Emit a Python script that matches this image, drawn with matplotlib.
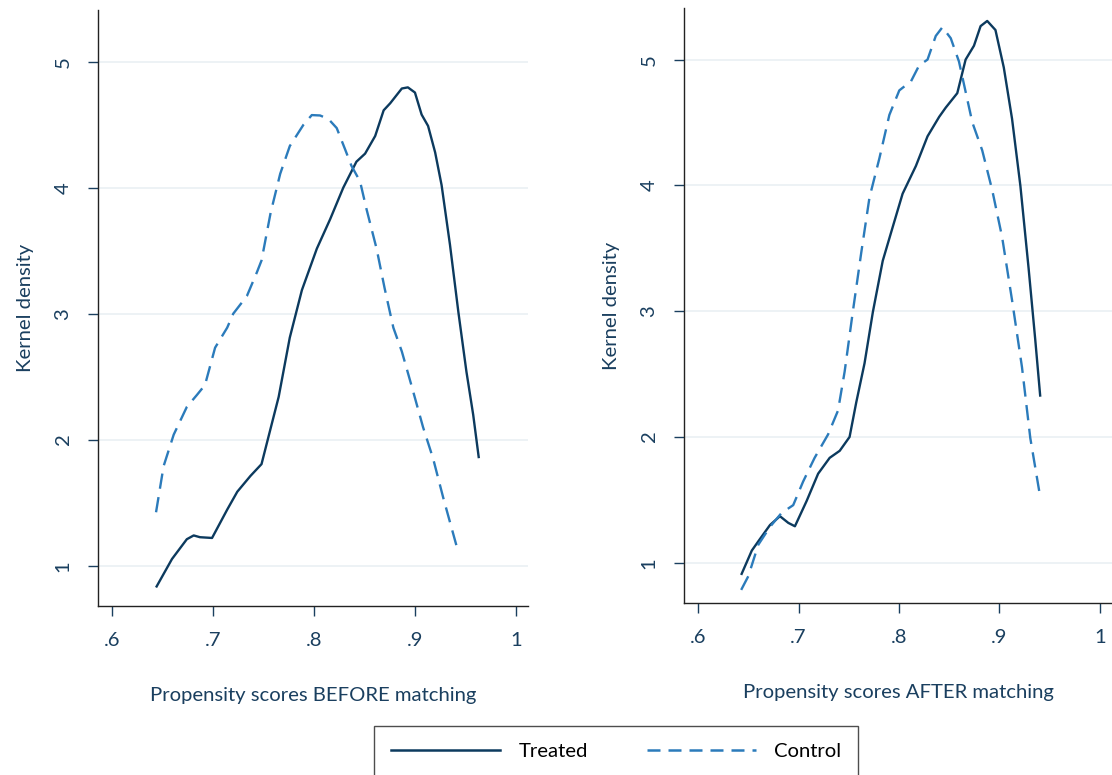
import matplotlib
matplotlib.use("Agg")
import matplotlib.pyplot as plt
from matplotlib.lines import Line2D

plt.rcParams['font.family'] = ['Lato', 'DejaVu Sans']

# ---- data ----
before_treated_x = [0.6435, 0.6593, 0.674, 0.6808, 0.687, 0.699, 0.714, 0.724, 0.737, 0.748, 0.757, 0.765,
                    0.776, 0.788, 0.8028, 0.816, 0.829, 0.842, 0.8506, 0.8606, 0.869, 0.8755, 0.887, 0.893,
                    0.900, 0.9066, 0.913, 0.920, 0.9264, 0.9347, 0.943, 0.951, 0.9577, 0.9633]
before_treated_y = [0.827, 1.053, 1.21, 1.24, 1.226, 1.22, 1.445, 1.587, 1.712, 1.806, 2.089, 2.34,
                    2.81, 3.187, 3.516, 3.75, 4.0, 4.206, 4.27, 4.41, 4.614, 4.67, 4.787, 4.796,
                    4.755, 4.58, 4.49, 4.28, 4.02, 3.547, 3.014, 2.54, 2.198, 1.853]

before_control_x = [0.6435, 0.651, 0.661, 0.674, 0.684, 0.692, 0.702, 0.714, 0.720, 0.7335, 0.7434, 0.748,
                    0.757, 0.7665, 0.776, 0.7896, 0.7978, 0.806, 0.8143, 0.8225, 0.831, 0.837, 0.8456,
                    0.852, 0.862, 0.870, 0.8786, 0.887, 0.897, 0.908, 0.918, 0.928, 0.941]
before_control_y = [1.424, 1.79, 2.04, 2.26, 2.355, 2.434, 2.73, 2.889, 3.0, 3.14, 3.328, 3.422,
                    3.8, 4.11, 4.33, 4.50, 4.576, 4.573, 4.545, 4.473, 4.30, 4.175, 4.05,
                    3.83, 3.516, 3.20, 2.889, 2.70, 2.418, 2.10, 1.85, 1.54, 1.163]

after_treated_x = [0.6429, 0.6535, 0.6617, 0.6716, 0.6815, 0.6898, 0.6964, 0.708, 0.7195, 0.731, 0.741,
                   0.7508, 0.7574, 0.7657, 0.774, 0.7838, 0.7937, 0.8036, 0.8168, 0.8284, 0.840, 0.8465,
                   0.858, 0.8663, 0.8746, 0.8812, 0.8878, 0.896, 0.9043, 0.9125, 0.9208, 0.929, 0.9356, 0.9406]
after_treated_y = [0.903, 1.097, 1.19, 1.30, 1.37, 1.317, 1.29, 1.49, 1.708, 1.834, 1.89,
                   2.0, 2.273, 2.586, 2.994, 3.40, 3.668, 3.934, 4.154, 4.39, 4.545, 4.618,
                   4.733, 5.0, 5.11, 5.266, 5.307, 5.235, 4.937, 4.53, 3.997, 3.34, 2.774, 2.32]

after_control_x = [0.6429, 0.650, 0.660, 0.6716, 0.683, 0.6947, 0.7046, 0.716, 0.7294, 0.7393, 0.7459,
                   0.754, 0.7624, 0.7706, 0.7805, 0.7904, 0.8003, 0.812, 0.820, 0.8284, 0.8366, 0.8432,
                   0.8515, 0.8597, 0.873, 0.8828, 0.8927, 0.9026, 0.9125, 0.9224, 0.9307, 0.9406]
after_control_y = [0.784, 0.893, 1.144, 1.285, 1.395, 1.458, 1.646, 1.834, 2.02, 2.21, 2.52,
                   2.994, 3.464, 3.903, 4.216, 4.56, 4.755, 4.828, 4.953, 5.0, 5.188, 5.257,
                   5.17, 4.984, 4.50, 4.279, 3.965, 3.59, 3.088, 2.555, 1.99, 1.52]

x_ticks = [0.6, 0.7, 0.8, 0.9, 1.0]
x_tick_labels = ['.6', '.7', '.8', '.9', '1']
y_ticks = [1, 2, 3, 4, 5]
y_tick_labels = ['1', '2', '3', '4', '5']
x_titles = ['Propensity scores BEFORE matching', 'Propensity scores AFTER matching']
y_title = 'Kernel density'
legend_labels = ['Treated', 'Control']

treated_color = '#0c3a5e'
control_color = '#2b7bbb'
text_color = '#1a3f5f'
grid_color = '#eaf0f3'
FS = 14.6

W, H = 1112, 775
fig = plt.figure(figsize=(W / 100, H / 100), dpi=100)

def ax_rect(x0, y0, x1, y1):
    return [x0 / W, 1 - y1 / H, (x1 - x0) / W, (y1 - y0) / H]

panels = [
    (ax_rect(98, 10, 528, 606), before_treated_x, before_treated_y, before_control_x, before_control_y, x_titles[0], 27),
    (ax_rect(684, 8, 1112, 603), after_treated_x, after_treated_y, after_control_x, after_control_y, x_titles[1], 27),
]

for rect, tx, ty, cx, cy, xt, lp in panels:
    ax = fig.add_axes(rect)
    ax.plot(tx, ty, color=treated_color, lw=1.7, solid_capstyle='butt')
    ax.plot(cx, cy, color=control_color, lw=1.7, dashes=(6.5, 3.6))
    ax.set_xlim(0.586, 1.012)
    ax.set_ylim(0.68, 5.41)
    ax.set_xticks(x_ticks)
    ax.set_xticklabels(x_tick_labels)
    ax.set_yticks(y_ticks)
    ax.set_yticklabels(y_tick_labels, rotation=90, va='center')
    ax.grid(axis='y', color=grid_color, lw=1.2)
    ax.set_axisbelow(True)
    for s in ['top', 'right']:
        ax.spines[s].set_visible(False)
    for s in ['left', 'bottom']:
        ax.spines[s].set_color('#222222')
        ax.spines[s].set_linewidth(1.0)
    ax.tick_params(axis='both', direction='out', length=7, width=1.0, color=text_color,
                   labelcolor=text_color, labelsize=FS)
    ax.tick_params(axis='y', pad=12)
    ax.tick_params(axis='x', pad=12)
    ax.set_xlabel(xt, color=text_color, fontsize=FS, labelpad=lp)
    ax.set_ylabel(y_title, color=text_color, fontsize=FS, labelpad=15)

handles = [Line2D([0], [0], color=treated_color, lw=1.8),
           Line2D([0], [0], color=control_color, lw=1.8, dashes=(5.2, 3.2))]
leg = fig.legend(handles, legend_labels, loc='center', bbox_to_anchor=(616 / W, 1 - 751 / H),
                 ncol=2, frameon=True, fancybox=False, fontsize=FS, handlelength=5.4,
                 columnspacing=2.9, handletextpad=0.9, borderpad=0.8, edgecolor='#222222')
leg.get_frame().set_linewidth(1.0)

fig.savefig('out.png', dpi=100, facecolor='white')
